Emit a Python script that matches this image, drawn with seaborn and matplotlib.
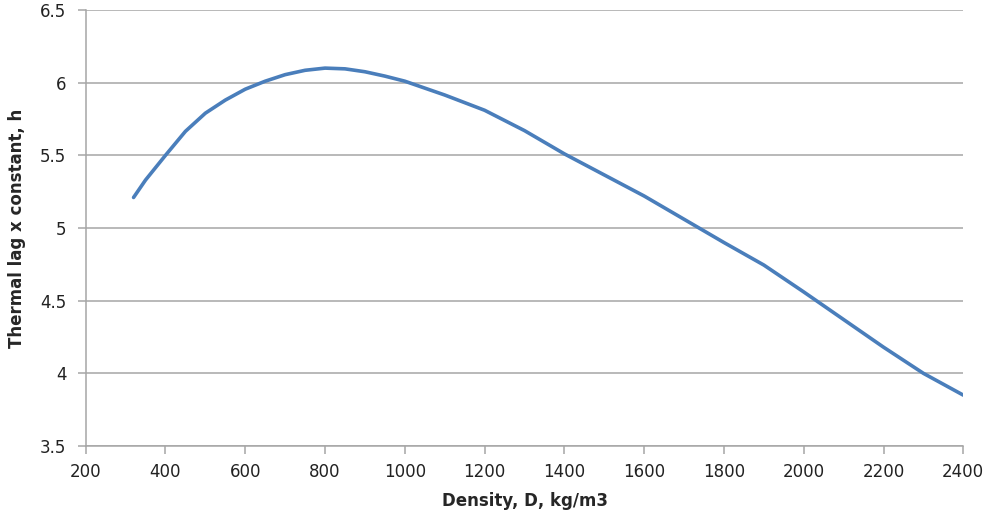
import pandas as pd
import matplotlib
matplotlib.use("Agg")
import matplotlib.pyplot as plt
import seaborn as sns

# Values
density = [320, 350, 400, 450, 500, 550, 600, 650, 700, 750, 800, 850, 900, 950,
           1000, 1100, 1200, 1300, 1400, 1500, 1600, 1700, 1800, 1900, 2000,
           2100, 2200, 2300, 2400]
thermal_lag = [5.21, 5.33, 5.50, 5.665, 5.79, 5.88, 5.955, 6.01, 6.055, 6.085, 6.10, 6.095,
               6.075, 6.045, 6.01, 5.915, 5.81, 5.67, 5.51, 5.365, 5.22, 5.06, 4.90,
               4.745, 4.56, 4.37, 4.18, 4.00, 3.85]

x_ticks = list(range(200, 2401, 200))
y_ticks = [3.5, 4, 4.5, 5, 5.5, 6, 6.5]
y_tick_labels = ["3.5", "4", "4.5", "5", "5.5", "6", "6.5"]

df = pd.DataFrame({"density": density, "lag": thermal_lag})

sns.set_style("white")
plt.rcParams["font.family"] = ["DejaVu Sans"]

fig = plt.figure(figsize=(9.93, 5.17), dpi=100)
ax = fig.add_axes([0.0863, 0.1373, 0.8838, 0.8434])

sns.lineplot(data=df, x="density", y="lag", ax=ax, color="#4a7ebb", linewidth=2.6)

ax.set_xlim(200, 2400)
ax.set_ylim(3.5, 6.5)
ax.set_xticks(x_ticks)
ax.set_xticklabels([str(t) for t in x_ticks])
ax.set_yticks(y_ticks)
ax.set_yticklabels(y_tick_labels)

grid_col = "#a6a6a6"
ax.yaxis.grid(True, color=grid_col, linewidth=1.1)
ax.xaxis.grid(False)
ax.set_axisbelow(True)

for side in ["top", "right"]:
    ax.spines[side].set_visible(False)
for side in ["left", "bottom"]:
    ax.spines[side].set_color(grid_col)
    ax.spines[side].set_linewidth(1.1)

ax.tick_params(axis="both", which="major", direction="out", length=6, width=1.1,
               color=grid_col, labelsize=12, labelcolor="#222222",
               bottom=True, left=True)
ax.tick_params(axis="x", pad=6)
ax.tick_params(axis="y", pad=8)

ax.set_xlabel("Density, D, kg/m3", fontsize=12, fontweight="bold", labelpad=8)
ax.set_ylabel("Thermal lag x constant, h", fontsize=12, fontweight="bold", labelpad=10)

fig.savefig("out.png", dpi=100)
